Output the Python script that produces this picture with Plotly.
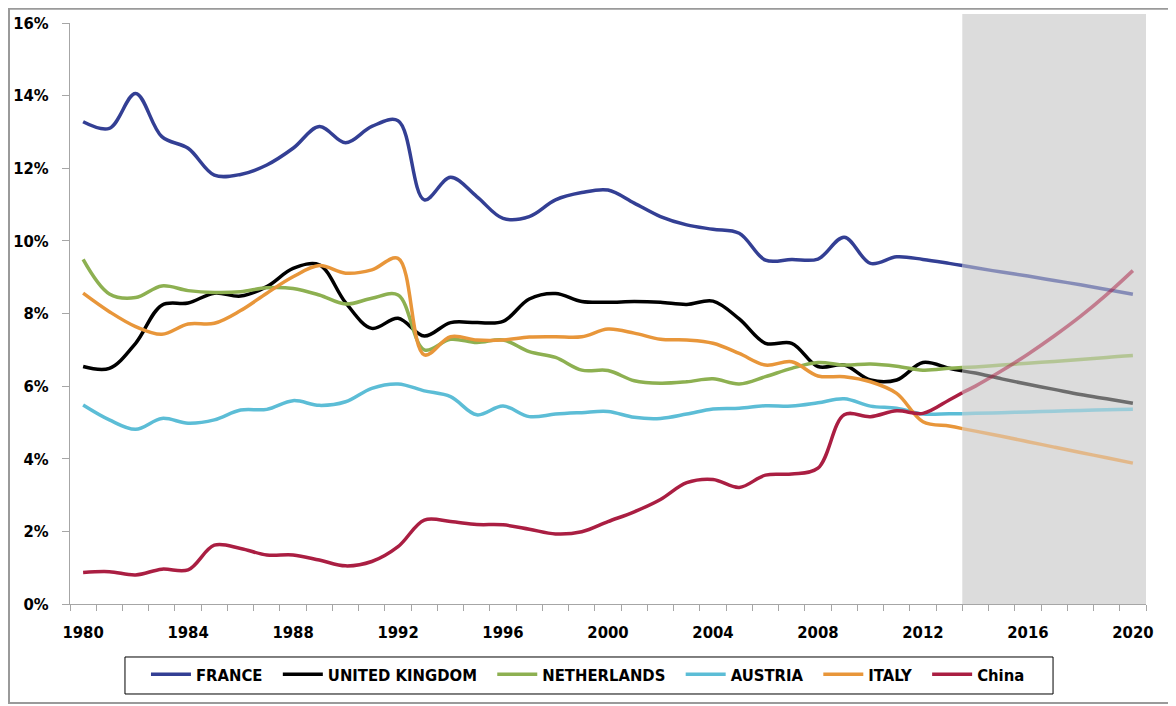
import plotly.graph_objects as go

years = list(range(1980, 2014)) + [2013.5]
proj_years = [2013.5, 2014, 2015, 2016, 2017, 2018, 2019, 2020]

france = [13.28, 13.10, 14.06, 12.87, 12.55, 11.81, 11.83, 12.09, 12.55, 13.15,
          12.70, 13.15, 13.31, 11.13, 11.75, 11.22, 10.62, 10.67, 11.13, 11.33,
          11.40, 11.04, 10.67, 10.44, 10.32, 10.21, 9.47, 9.49, 9.50, 10.10,
          9.38, 9.56, 9.49, 9.38, 9.32]
uk = [6.54, 6.49, 7.18, 8.23, 8.29, 8.56, 8.48, 8.74, 9.24, 9.34,
      8.30, 7.59, 7.87, 7.38, 7.75, 7.75, 7.78, 8.40, 8.55, 8.33,
      8.31, 8.33, 8.31, 8.25, 8.34, 7.85, 7.18, 7.18, 6.54, 6.58,
      6.17, 6.17, 6.65, 6.49, 6.42]
netherlands = [9.49, 8.54, 8.44, 8.76, 8.63, 8.58, 8.60, 8.71, 8.69, 8.51,
               8.26, 8.42, 8.51, 7.00, 7.29, 7.20, 7.27, 6.95, 6.79, 6.44,
               6.43, 6.15, 6.08, 6.12, 6.20, 6.06, 6.26, 6.49, 6.65, 6.58,
               6.61, 6.55, 6.44, 6.49, 6.51]
austria = [5.48, 5.07, 4.81, 5.11, 4.98, 5.07, 5.34, 5.36, 5.60, 5.47,
           5.57, 5.94, 6.06, 5.87, 5.71, 5.21, 5.45, 5.16, 5.23, 5.27,
           5.30, 5.14, 5.11, 5.23, 5.37, 5.39, 5.46, 5.45, 5.54, 5.65,
           5.45, 5.39, 5.23, 5.24, 5.24]
italy = [8.56, 8.05, 7.64, 7.43, 7.71, 7.73, 8.08, 8.56, 9.01, 9.32,
         9.11, 9.20, 9.52, 6.86, 7.36, 7.27, 7.27, 7.35, 7.36, 7.36,
         7.57, 7.46, 7.29, 7.27, 7.18, 6.90, 6.58, 6.67, 6.28, 6.26,
         6.12, 5.80, 5.02, 4.90, 4.83]
china = [0.87, 0.89, 0.80, 0.96, 0.94, 1.62, 1.53, 1.35, 1.35, 1.21,
         1.05, 1.17, 1.58, 2.31, 2.27, 2.19, 2.18, 2.06, 1.93, 1.99,
         2.27, 2.54, 2.88, 3.34, 3.43, 3.21, 3.55, 3.58, 3.74, 5.21,
         5.16, 5.32, 5.25, 5.62, 5.82]

france_proj = [9.32, 9.26, 9.14, 9.03, 8.91, 8.79, 8.66, 8.53]
uk_proj = [6.42, 6.36, 6.20, 6.05, 5.91, 5.77, 5.65, 5.53]
netherlands_proj = [6.51, 6.53, 6.58, 6.63, 6.68, 6.73, 6.79, 6.84]
austria_proj = [5.24, 5.25, 5.27, 5.29, 5.31, 5.33, 5.35, 5.36]
italy_proj = [4.83, 4.76, 4.62, 4.47, 4.32, 4.17, 4.03, 3.88]
china_proj = [5.82, 6.00, 6.42, 6.88, 7.38, 7.92, 8.52, 9.18]

names = ["FRANCE", "UNITED KINGDOM", "NETHERLANDS", "AUSTRIA", "ITALY", "China"]
colors = ["#333F94", "#000000", "#8DB051", "#5CBDD6", "#E8963A", "#AA1E42"]
hist = [france, uk, netherlands, austria, italy, china]
proj = [france_proj, uk_proj, netherlands_proj, austria_proj, italy_proj, china_proj]

x_labels = list(range(1980, 2021, 4))
PAD = "\u00a0\u00a0"

fig = go.Figure()
for name, col, h, p in zip(names, colors, hist, proj):
    fig.add_trace(go.Scatter(x=proj_years, y=p, mode="lines", showlegend=False,
                             line=dict(color=col, width=3.5, shape="spline"),
                             opacity=0.5, hoverinfo="skip"))
for name, col, h, p in zip(names, colors, hist, proj):
    fig.add_trace(go.Scatter(x=years, y=h, mode="lines", name=name + PAD,
                             line=dict(color=col, width=3.5, shape="spline", smoothing=1)))

# forecast shading
fig.add_shape(type="rect", xref="x", yref="paper", x0=2013.5, x1=2020.6,
              y0=0, y1=1.0155, fillcolor="#DCDCDC", line=dict(width=0), layer="below")
# outer frame
fig.add_shape(type="rect", xref="paper", yref="paper",
              x0=-0.0567, x1=1.026, y0=-0.1704, y1=1.0245,
              line=dict(color="#9A9A9A", width=2), fillcolor="rgba(0,0,0,0)")
# legend frame
fig.add_shape(type="rect", xref="paper", yref="paper",
              x0=0.0511, x1=0.9136, y0=-0.1549, y1=-0.0912,
              line=dict(color="#000000", width=1), fillcolor="white", layer="below")

FONT = "DejaVu Sans Condensed, DejaVu Sans, sans-serif"
tick_font = dict(family=FONT, size=16.5, color="#000000", weight="bold")

fig.update_layout(
    width=1168, height=698,
    margin=dict(l=62, r=30, t=15, b=102),
    plot_bgcolor="white", paper_bgcolor="white",
    showlegend=True,
    legend=dict(orientation="h", x=0.0706, y=-0.0912, xanchor="left", yanchor="top",
                borderwidth=0, bgcolor="rgba(0,0,0,0)", itemwidth=40,
                font=dict(family=FONT, size=16.5, color="#000000", weight="bold")),
    xaxis=dict(range=[1979.5, 2020.5], tickmode="array", tickvals=x_labels,
               ticktext=[str(v) for v in x_labels], ticks="", showgrid=False,
               showline=True, linecolor="#A6A6A6", linewidth=1, zeroline=False,
               tickfont=tick_font, ticklabelstandoff=13, automargin=False,
               minor=dict(tickmode="linear", tick0=1979.5, dtick=1, ticks="outside",
                          ticklen=6, tickcolor="#A6A6A6", showgrid=False)),
    yaxis=dict(range=[0, 16], tickmode="linear", tick0=0, dtick=2, ticksuffix="%",
               ticks="outside", ticklen=7, tickcolor="#A6A6A6", showgrid=False,
               showline=True, linecolor="#A6A6A6", linewidth=1, zeroline=False,
               tickfont=tick_font, ticklabelstandoff=10, automargin=False),
)

fig.write_html("out.html")
